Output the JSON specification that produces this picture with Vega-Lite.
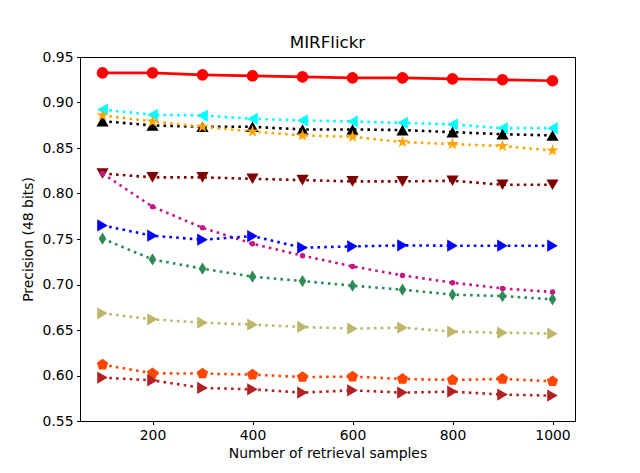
{
  "$schema": "https://vega.github.io/schema/vega-lite/v6.json",
  "width": 495,
  "height": 364,
  "autosize": {"type": "none"},
  "padding": {"left": 80, "top": 57, "right": 65, "bottom": 52},
  "background": "white",
  "title": {"text": "MIRFlickr", "font": "DejaVu Sans", "fontSize": 16.7, "fontWeight": "normal", "color": "black", "offset": -2},
  "config": {
    "view": {"stroke": "black", "strokeWidth": 1},
    "axis": {
      "grid": false,
      "domainColor": "black",
      "tickColor": "black",
      "tickSize": 3.5,
      "labelPadding": 3.5,
      "labelFont": "DejaVu Sans",
      "labelFontSize": 13.9,
      "labelColor": "black",
      "titleFont": "DejaVu Sans",
      "titleFontSize": 13.9,
      "titleFontWeight": "normal",
      "titleColor": "black"
    }
  },
  "data": {
    "values": [
      {"n": 100, "m": "S1", "p": 0.9326}, {"n": 200, "m": "S1", "p": 0.9326}, {"n": 300, "m": "S1", "p": 0.9304}, {"n": 400, "m": "S1", "p": 0.9293}, {"n": 500, "m": "S1", "p": 0.9282},
      {"n": 600, "m": "S1", "p": 0.9271}, {"n": 700, "m": "S1", "p": 0.9271}, {"n": 800, "m": "S1", "p": 0.926}, {"n": 900, "m": "S1", "p": 0.925}, {"n": 1000, "m": "S1", "p": 0.9239},
      {"n": 100, "m": "S2", "p": 0.8923}, {"n": 200, "m": "S2", "p": 0.8865}, {"n": 300, "m": "S2", "p": 0.8857}, {"n": 400, "m": "S2", "p": 0.8821}, {"n": 500, "m": "S2", "p": 0.8803},
      {"n": 600, "m": "S2", "p": 0.8792}, {"n": 700, "m": "S2", "p": 0.8777}, {"n": 800, "m": "S2", "p": 0.8759}, {"n": 900, "m": "S2", "p": 0.8718}, {"n": 1000, "m": "S2", "p": 0.8718},
      {"n": 100, "m": "S3", "p": 0.8795}, {"n": 200, "m": "S3", "p": 0.8748}, {"n": 300, "m": "S3", "p": 0.8733}, {"n": 400, "m": "S3", "p": 0.8733}, {"n": 500, "m": "S3", "p": 0.8704},
      {"n": 600, "m": "S3", "p": 0.8704}, {"n": 700, "m": "S3", "p": 0.8697}, {"n": 800, "m": "S3", "p": 0.8674}, {"n": 900, "m": "S3", "p": 0.8652}, {"n": 1000, "m": "S3", "p": 0.8638},
      {"n": 100, "m": "S4", "p": 0.8857}, {"n": 200, "m": "S4", "p": 0.8792}, {"n": 300, "m": "S4", "p": 0.8733}, {"n": 400, "m": "S4", "p": 0.8682}, {"n": 500, "m": "S4", "p": 0.8638},
      {"n": 600, "m": "S4", "p": 0.8623}, {"n": 700, "m": "S4", "p": 0.8565}, {"n": 800, "m": "S4", "p": 0.8543}, {"n": 900, "m": "S4", "p": 0.8521}, {"n": 1000, "m": "S4", "p": 0.8473},
      {"n": 100, "m": "S5", "p": 0.822}, {"n": 200, "m": "S5", "p": 0.8177}, {"n": 300, "m": "S5", "p": 0.8177}, {"n": 400, "m": "S5", "p": 0.8162}, {"n": 500, "m": "S5", "p": 0.8147},
      {"n": 600, "m": "S5", "p": 0.8133}, {"n": 700, "m": "S5", "p": 0.8133}, {"n": 800, "m": "S5", "p": 0.814}, {"n": 900, "m": "S5", "p": 0.8096}, {"n": 1000, "m": "S5", "p": 0.8096},
      {"n": 100, "m": "S6", "p": 0.822}, {"n": 200, "m": "S6", "p": 0.7855}, {"n": 300, "m": "S6", "p": 0.7624}, {"n": 400, "m": "S6", "p": 0.7448}, {"n": 500, "m": "S6", "p": 0.7317},
      {"n": 600, "m": "S6", "p": 0.7199}, {"n": 700, "m": "S6", "p": 0.71}, {"n": 800, "m": "S6", "p": 0.702}, {"n": 900, "m": "S6", "p": 0.6957}, {"n": 1000, "m": "S6", "p": 0.6917},
      {"n": 100, "m": "S7", "p": 0.7649}, {"n": 200, "m": "S7", "p": 0.7536}, {"n": 300, "m": "S7", "p": 0.7492}, {"n": 400, "m": "S7", "p": 0.7532}, {"n": 500, "m": "S7", "p": 0.7404},
      {"n": 600, "m": "S7", "p": 0.7419}, {"n": 700, "m": "S7", "p": 0.743}, {"n": 800, "m": "S7", "p": 0.7426}, {"n": 900, "m": "S7", "p": 0.7426}, {"n": 1000, "m": "S7", "p": 0.7426},
      {"n": 100, "m": "S8", "p": 0.7503}, {"n": 200, "m": "S8", "p": 0.7276}, {"n": 300, "m": "S8", "p": 0.7174}, {"n": 400, "m": "S8", "p": 0.7086}, {"n": 500, "m": "S8", "p": 0.7038},
      {"n": 600, "m": "S8", "p": 0.6987}, {"n": 700, "m": "S8", "p": 0.6943}, {"n": 800, "m": "S8", "p": 0.6888}, {"n": 900, "m": "S8", "p": 0.6873}, {"n": 1000, "m": "S8", "p": 0.6837},
      {"n": 100, "m": "S9", "p": 0.6683}, {"n": 200, "m": "S9", "p": 0.6617}, {"n": 300, "m": "S9", "p": 0.6581}, {"n": 400, "m": "S9", "p": 0.6559}, {"n": 500, "m": "S9", "p": 0.6533},
      {"n": 600, "m": "S9", "p": 0.6515}, {"n": 700, "m": "S9", "p": 0.6526}, {"n": 800, "m": "S9", "p": 0.6482}, {"n": 900, "m": "S9", "p": 0.6471}, {"n": 1000, "m": "S9", "p": 0.646},
      {"n": 100, "m": "S10", "p": 0.6119}, {"n": 200, "m": "S10", "p": 0.6024}, {"n": 300, "m": "S10", "p": 0.6021}, {"n": 400, "m": "S10", "p": 0.601}, {"n": 500, "m": "S10", "p": 0.5983},
      {"n": 600, "m": "S10", "p": 0.5988}, {"n": 700, "m": "S10", "p": 0.5962}, {"n": 800, "m": "S10", "p": 0.5951}, {"n": 900, "m": "S10", "p": 0.5962}, {"n": 1000, "m": "S10", "p": 0.5936},
      {"n": 100, "m": "S11", "p": 0.5977}, {"n": 200, "m": "S11", "p": 0.5947}, {"n": 300, "m": "S11", "p": 0.5863}, {"n": 400, "m": "S11", "p": 0.5848}, {"n": 500, "m": "S11", "p": 0.5812},
      {"n": 600, "m": "S11", "p": 0.5837}, {"n": 700, "m": "S11", "p": 0.5812}, {"n": 800, "m": "S11", "p": 0.5823}, {"n": 900, "m": "S11", "p": 0.579}, {"n": 1000, "m": "S11", "p": 0.5779}
    ]
  },
  "encoding": {
    "x": {
      "field": "n", "type": "quantitative",
      "scale": {"domain": [55, 1045], "nice": false, "zero": false},
      "axis": {"values": [200, 400, 600, 800, 1000], "format": "d", "title": "Number of retrieval samples", "titlePadding": 5}
    },
    "y": {
      "field": "p", "type": "quantitative",
      "scale": {"domain": [0.55, 0.95], "nice": false, "zero": false},
      "axis": {"values": [0.55, 0.6, 0.65, 0.7, 0.75, 0.8, 0.85, 0.9, 0.95], "format": ".2f", "title": "Precision (48 bits)", "titlePadding": 7}
    },
    "color": {
      "field": "m", "type": "nominal", "legend": null,
      "scale": {
        "domain": ["S1", "S2", "S3", "S4", "S5", "S6", "S7", "S8", "S9", "S10", "S11"],
        "range": ["#ff0000", "#00ffff", "#000000", "#ffa500", "#800000", "#c71585", "#0000ff", "#2e8b57", "#bdb76b", "#ff4500", "#b22222"]
      }
    }
  },
  "layer": [
    {
      "transform": [{"filter": "datum.m === 'S1'"}],
      "mark": {"type": "line", "strokeWidth": 2.6}
    },
    {
      "transform": [{"filter": "datum.m !== 'S1'"}],
      "mark": {"type": "line", "strokeWidth": 2.6, "strokeCap": "butt", "strokeDash": [2.6, 4.2]}
    },
    {
      "mark": {"type": "point", "filled": true, "opacity": 1},
      "encoding": {
        "shape": {
          "field": "m", "type": "nominal", "legend": null,
          "scale": {
            "domain": ["S1", "S2", "S3", "S4", "S5", "S6", "S7", "S8", "S9", "S10", "S11"],
            "range": ["circle", "triangle-left", "triangle-up", "M0,-1L0.225,-0.31L0.951,-0.309L0.363,0.118L0.588,0.809L0,0.382L-0.588,0.809L-0.363,0.118L-0.951,-0.309L-0.225,-0.31Z", "triangle-down", "circle", "triangle-right", "M0,-1L0.62,0L0,1L-0.62,0Z", "triangle-right", "M0,-1L0.951,-0.309L0.588,0.809L-0.588,0.809L-0.951,-0.309Z", "triangle-right"]
          }
        },
        "size": {
          "field": "m", "type": "nominal", "legend": null,
          "scale": {
            "type": "ordinal",
            "domain": ["S1", "S2", "S3", "S4", "S5", "S6", "S7", "S8", "S9", "S10", "S11"],
            "range": [135, 150, 150, 170, 150, 30, 150, 150, 150, 140, 150]
          }
        }
      }
    }
  ]
}
